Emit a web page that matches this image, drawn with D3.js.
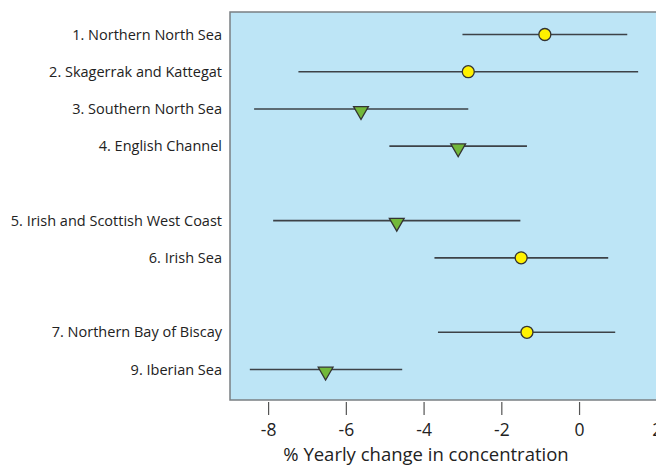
<!DOCTYPE html>
<html lang="en">
<head>
  <meta charset="UTF-8">
  <title>Yearly change in concentration</title>
  <script src="https://d3js.org/d3.v7.min.js"></script>
  <style>
    body {
      margin: 0;
      background: #fff;
      font-family: 'Open Sans', sans-serif;
    }
    .row-label {
      font-size: 14.5px;
      fill: #222;
    }
    .axis text {
      font-size: 17.5px;
      fill: #222;
      font-family: 'Open Sans', sans-serif;
    }
    .axis line {
      stroke: #555;
      stroke-width: 1.2px;
    }
  </style>
</head>
<body>
  <svg id="chart"></svg>

  <script>
    // regions, row slot (blank slots leave the gaps), mean and range
    const regions = [
      "1. Northern North Sea",
      "2. Skagerrak and Kattegat",
      "3. Southern North Sea",
      "4. English Channel",
      "5. Irish and Scottish West Coast",
      "6. Irish Sea",
      "7. Northern Bay of Biscay",
      "9. Iberian Sea"
    ];
    const slots = [0, 1, 2, 3, 5, 6, 8, 9];
    const means = [-0.88, -2.85, -5.61, -3.11, -4.69, -1.49, -1.34, -6.52];
    const lows  = [-3.0, -7.22, -8.36, -4.88, -7.87, -3.72, -3.63, -8.47];
    const highs = [1.24, 1.52, -2.85, -1.34, -1.51, 0.75, 0.93, -4.55];
    // circle = no significant trend, triangle = downward trend
    const markers = ["circle", "circle", "down", "down", "down", "circle", "circle", "down"];
    const xTicks = [-8, -6, -4, -2, 0, 2];

    const W = 656, H = 466;
    const plot = { left: 230, top: 12, bottom: 400, right: 700 };

    const svg = d3.select("#chart")
      .attr("width", W)
      .attr("height", H);

    const x = d3.scaleLinear()
      .domain([-8, 2])
      .range([268.1, 656.8]);

    const y = d3.scaleLinear()
      .domain([0, 9])
      .range([34.5, 369.5]);

    const data = regions.map((r, i) => ({
      name: r, slot: slots[i], mean: means[i], lo: lows[i], hi: highs[i], marker: markers[i]
    }));

    // plot background
    svg.append("rect")
      .attr("x", plot.left)
      .attr("y", plot.top)
      .attr("width", plot.right - plot.left)
      .attr("height", plot.bottom - plot.top)
      .attr("fill", "#bde5f6")
      .attr("stroke", "#7a7f83")
      .attr("stroke-width", 1.5);

    // whiskers
    svg.selectAll(".whisker")
      .data(data)
      .enter().append("line")
      .attr("class", "whisker")
      .attr("x1", d => x(d.lo))
      .attr("x2", d => x(d.hi))
      .attr("y1", d => y(d.slot))
      .attr("y2", d => y(d.slot))
      .attr("stroke", "#3d4247")
      .attr("stroke-width", 1.6);

    // circles
    svg.selectAll(".dot")
      .data(data.filter(d => d.marker === "circle"))
      .enter().append("circle")
      .attr("class", "dot")
      .attr("cx", d => x(d.mean))
      .attr("cy", d => y(d.slot))
      .attr("r", 6)
      .attr("fill", "#fff200")
      .attr("stroke", "#333")
      .attr("stroke-width", 1.3);

    // down triangles
    const tri = d3.symbol().type(d3.symbolTriangle).size(95);
    svg.selectAll(".tri")
      .data(data.filter(d => d.marker === "down"))
      .enter().append("path")
      .attr("class", "tri")
      .attr("d", tri)
      .attr("transform", d => `translate(${x(d.mean)},${y(d.slot) + 2}) rotate(180)`)
      .attr("fill", "#72b83a")
      .attr("stroke", "#333")
      .attr("stroke-width", 1.3);

    // row labels
    svg.selectAll(".row-label")
      .data(data)
      .enter().append("text")
      .attr("class", "row-label")
      .attr("x", 222)
      .attr("y", d => y(d.slot))
      .attr("dy", "0.35em")
      .attr("text-anchor", "end")
      .text(d => d.name);

    // x axis
    const axis = svg.append("g")
      .attr("class", "axis")
      .attr("transform", `translate(0,${plot.bottom + 2})`)
      .call(d3.axisBottom(x)
        .tickValues(xTicks)
        .tickSize(13)
        .tickPadding(9)
        .tickFormat(d => String(d)));
    axis.select(".domain").remove();

    svg.append("text")
      .attr("x", 426)
      .attr("y", 461)
      .attr("text-anchor", "middle")
      .style("font-size", "18.5px")
      .style("fill", "#222")
      .text("% Yearly change in concentration");
  </script>
</body>
</html>
